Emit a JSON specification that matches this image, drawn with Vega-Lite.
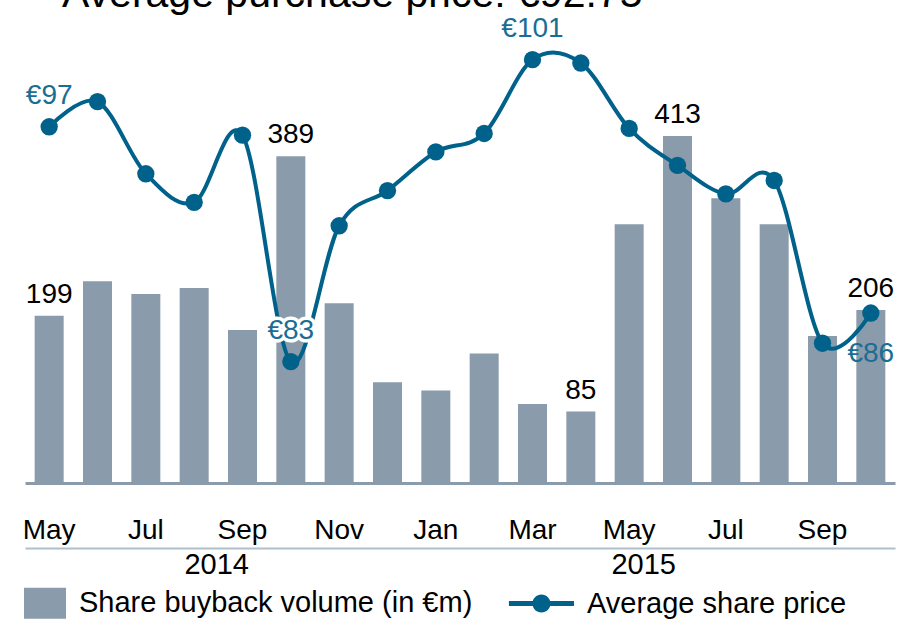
{
  "$schema": "https://vega.github.io/schema/vega-lite/v6.json",
  "width": 870,
  "height": 473,
  "autosize": {"type": "none"},
  "padding": {"left": 25, "top": 10, "right": 10, "bottom": 138},
  "background": "white",
  "config": {
    "view": {"stroke": null},
    "font": "Liberation Sans",
    "text": {"font": "Liberation Sans"}
  },
  "title": {
    "text": "Average purchase price: €92.75",
    "anchor": "start",
    "frame": "group",
    "fontSize": 41,
    "font": "Liberation Sans",
    "fontWeight": "normal",
    "color": "black",
    "baseline": "alphabetic",
    "offset": 0,
    "dy": 38,
    "dx": 37
  },
  "data": {
    "values": [
      {"month": "May 2014", "volume": 199, "price": 97.0, "volumeLabel": "199", "priceLabel": "€97"},
      {"month": "Jun 2014", "volume": 240, "price": 98.5},
      {"month": "Jul 2014", "volume": 225, "price": 94.2},
      {"month": "Aug 2014", "volume": 232, "price": 92.5},
      {"month": "Sep 2014", "volume": 182, "price": 96.5},
      {"month": "Oct 2014", "volume": 389, "price": 83.0, "volumeLabel": "389", "priceLabel": "€83"},
      {"month": "Nov 2014", "volume": 214, "price": 91.1},
      {"month": "Dec 2014", "volume": 120, "price": 93.2},
      {"month": "Jan 2015", "volume": 110, "price": 95.5},
      {"month": "Feb 2015", "volume": 154, "price": 96.6},
      {"month": "Mar 2015", "volume": 94, "price": 101.0, "priceLabel": "€101"},
      {"month": "Apr 2015", "volume": 85, "price": 100.8, "volumeLabel": "85"},
      {"month": "May 2015", "volume": 308, "price": 96.9},
      {"month": "Jun 2015", "volume": 413, "price": 94.7, "volumeLabel": "413"},
      {"month": "Jul 2015", "volume": 339, "price": 93.0},
      {"month": "Aug 2015", "volume": 308, "price": 93.8},
      {"month": "Sep 2015", "volume": 175, "price": 84.1},
      {"month": "Oct 2015", "volume": 206, "price": 85.9, "volumeLabel": "206", "priceLabel": "€86"}
    ]
  },
  "layer": [
    {
      "encoding": {
        "x": {
          "field": "month",
          "type": "ordinal",
          "sort": null,
          "scale": {
            "domain": ["May 2014","Jun 2014","Jul 2014","Aug 2014","Sep 2014","Oct 2014","Nov 2014","Dec 2014","Jan 2015","Feb 2015","Mar 2015","Apr 2015","May 2015","Jun 2015","Jul 2015","Aug 2015","Sep 2015","Oct 2015"],
            "paddingInner": 0.4,
            "paddingOuter": 0.2
          },
          "axis": {
            "orient": "bottom",
            "title": null,
            "values": ["May 2014","Jul 2014","Sep 2014","Nov 2014","Jan 2015","Mar 2015","May 2015","Jul 2015","Sep 2015"],
            "labelExpr": "split(datum.label, ' ')[0]",
            "labelAngle": 0,
            "ticks": false,
            "tickSize": 0,
            "labelPadding": 33,
            "labelFontSize": 28,
            "labelFont": "Liberation Sans",
            "labelColor": "black",
            "domainColor": "#8a9bab",
            "domainWidth": 3,
            "grid": false
          }
        },
        "y": {
          "field": "volume",
          "type": "quantitative",
          "scale": {"domain": [0, 563], "nice": false},
          "axis": null
        }
      },
      "layer": [
        {
          "mark": {"type": "bar"},
          "encoding": {
            "fill": {
              "datum": "Share buyback volume (in €m)",
              "scale": {
                "domain": ["Share buyback volume (in €m)", "Average share price"],
                "range": ["#8a9bab", "#00628b"]
              },
              "legend": {
                "orient": "none",
                "legendX": -1,
                "legendY": 572,
                "direction": "horizontal",
                "title": null,
                "padding": 0,
                "labelFontSize": 29,
                "labelFont": "Liberation Sans",
                "labelColor": "black",
                "labelLimit": 0,
                "labelOffset": 13,
                "symbolSize": 1764,
                "symbolStrokeWidth": 0,
                "symbolOpacity": 1,
                "columnPadding": 35,
                "encode": {
                  "symbols": {
                    "update": {
                      "shape": {"signal": "datum.value === 'Average share price' ? 'M-2.1,-0.12H1V0.12H-2.1Z M-0.98,0A0.43,0.43 0 1,1 -0.12,0A0.43,0.43 0 1,1 -0.98,0Z' : 'M-1,-0.74H1V0.74H-1Z'"}
                    }
                  }
                }
              }
            }
          }
        },
        {
          "transform": [{"filter": "isValid(datum.volumeLabel)"}],
          "mark": {"type": "text", "fontSize": 28, "dy": -13, "baseline": "alphabetic", "color": "black", "font": "Liberation Sans"},
          "encoding": {"text": {"field": "volumeLabel"}}
        }
      ]
    },
    {
      "encoding": {
        "x": {
          "field": "month",
          "type": "ordinal",
          "sort": null,
          "scale": {
            "domain": ["May 2014","Jun 2014","Jul 2014","Aug 2014","Sep 2014","Oct 2014","Nov 2014","Dec 2014","Jan 2015","Feb 2015","Mar 2015","Apr 2015","May 2015","Jun 2015","Jul 2015","Aug 2015","Sep 2015","Oct 2015"],
            "paddingInner": 0.4,
            "paddingOuter": 0.2
          },
          "axis": {
            "orient": "bottom",
            "title": null,
            "values": ["Aug 2014", "May 2015"],
            "labelExpr": "split(datum.label, ' ')[1]",
            "labelOffset": {"condition": {"test": "datum.value === 'Aug 2014'", "value": 22}, "value": 14},
            "labelAngle": 0,
            "offset": 65,
            "ticks": false,
            "tickSize": 0,
            "labelPadding": 2,
            "labelFontSize": 29,
            "labelFont": "Liberation Sans",
            "labelColor": "black",
            "domainColor": "#afbfcc",
            "domainWidth": 2,
            "grid": false
          }
        },
        "y": {
          "field": "price",
          "type": "quantitative",
          "scale": {"domain": [75.77, 103.96], "nice": false, "zero": false},
          "axis": null
        }
      },
      "layer": [
        {
          "mark": {"type": "line", "interpolate": "cardinal", "strokeWidth": 4, "color": "#00628b"}
        },
        {
          "mark": {"type": "circle", "size": 300, "opacity": 1},
          "encoding": {"fill": {"datum": "Average share price"}}
        },
        {
          "transform": [{"filter": "isValid(datum.priceLabel) && datum.month !== 'Oct 2015'"}],
          "mark": {"type": "text", "fontSize": 28, "dy": -23, "baseline": "alphabetic", "color": "white", "stroke": "white", "strokeWidth": 7, "strokeJoin": "round", "font": "Liberation Sans"},
          "encoding": {"text": {"field": "priceLabel"}}
        },
        {
          "transform": [{"filter": "isValid(datum.priceLabel) && datum.month !== 'Oct 2015'"}],
          "mark": {"type": "text", "fontSize": 28, "dy": -23, "baseline": "alphabetic", "color": "#1a6d93", "font": "Liberation Sans"},
          "encoding": {"text": {"field": "priceLabel"}}
        },
        {
          "transform": [{"filter": "datum.month === 'Oct 2015'"}],
          "mark": {"type": "text", "fontSize": 28, "dy": 49, "baseline": "alphabetic", "color": "#1a6d93", "font": "Liberation Sans"},
          "encoding": {"text": {"field": "priceLabel"}}
        }
      ]
    }
  ],
  "resolve": {"scale": {"x": "independent", "y": "independent"}}
}
